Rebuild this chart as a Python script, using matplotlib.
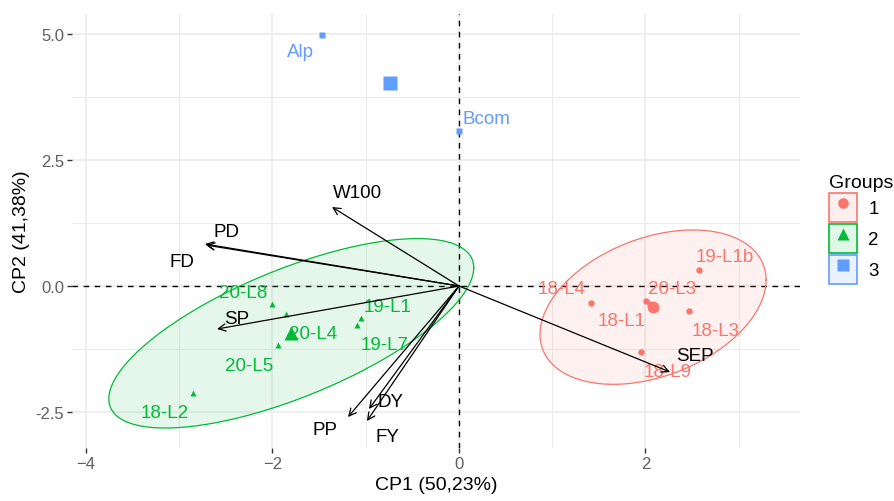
"""
PCA biplot: individuals coloured by group with 95% normal ellipses,
variables drawn as arrows from the origin.
"""

import numpy as np
import matplotlib
matplotlib.use("Agg")
import matplotlib.pyplot as plt
from matplotlib.lines import Line2D
from matplotlib.patches import Patch
from matplotlib.legend_handler import HandlerTuple

plt.rcParams["font.family"] = ["Liberation Sans", "DejaVu Sans"]

# ── Data ─────────────────────────────────────────────────────────────

# individuals, one label left blank where the original shows none
ind_names = ["19-L1b", "18-L4", "20-L3", "18-L1", "", "18-L3", "18-L9",
             "20-L8", "", "20-L4", "20-L5", "18-L2", "19-L1", "19-L7",
             "Alp", "Bcom"]
ind_x = [2.574, 1.416, 2.005, 2.102, 2.052, 2.466, 1.952,
         -2.005, -1.855, -1.791, -1.941, -2.853, -1.051, -1.094,
         -1.469, 0.000]
ind_y = [0.317, -0.337, -0.298, -0.456, -0.357, -0.496, -1.310,
         -0.357, -0.556, -0.952, -1.171, -2.123, -0.635, -0.774,
         4.980, 3.075]
ind_group = [1, 1, 1, 1, 1, 1, 1,
             2, 2, 2, 2, 2, 2, 2,
             3, 3]

# variables (arrow tips)
var_names = ["W100", "PD", "FD", "SP", "PP", "DY", "FY", "SEP"]
var_x = [-1.362, -2.724, -2.712, -2.595, -1.190, -0.965, -0.987, 2.263]
var_y = [1.567, 0.833, 0.812, -0.853, -2.599, -2.440, -2.679, -1.706]

groups = [1, 2, 3]
x_ticks = [-4, -2, 0, 2]
y_ticks = [-2.5, 0.0, 2.5, 5.0]

# ── Styling ──────────────────────────────────────────────────────────

COLORS = {1: "#F8766D", 2: "#00BA38", 3: "#619CFF"}
MARKERS = {1: "o", 2: "^", 3: "s"}
MSIZE = {1: 4.6, 2: 5.0, 3: 4.4}
CSIZE = {1: 8.5, 2: 9.5, 3: 9.4}

# label offsets in pixels (right, up) — mimics the repelled labels
ind_offsets = {
    "19-L1b": (26, 14), "18-L4": (-29, 14), "20-L3": (26, 13),
    "18-L1": (-33, -12), "18-L3": (27, -19), "18-L9": (27, -19),
    "20-L8": (-29, 12), "20-L4": (21, 0), "20-L5": (-29, -20),
    "18-L2": (-28, -19), "19-L1": (27, 12), "19-L7": (28, -19),
    "Alp": (-22, -16), "Bcom": (27, 13),
}
var_offsets = {
    "W100": (26, 15), "PD": (22, 13), "FD": (-24, -16), "SP": (20, 11),
    "PP": (-23, -12), "DY": (21, 7), "FY": (20, -15), "SEP": (25, 16),
}

LABEL_FS = 13.5


def norm_ellipse(x, y, level=0.95, n_seg=200):
    """Same construction as ggplot2 stat_ellipse(type = 'norm')."""
    pts = np.column_stack([x, y])
    n = len(pts)
    center = pts.mean(axis=0)
    shape = np.cov(pts, rowvar=False)
    df2 = n - 1
    # F(2, df2) quantile has a closed form
    qf = df2 / 2 * ((1 - level) ** (-2 / df2) - 1)
    radius = np.sqrt(2 * qf)
    t = np.linspace(0, 2 * np.pi, n_seg)
    circle = np.column_stack([np.cos(t), np.sin(t)])
    upper = np.linalg.cholesky(shape).T
    return center + radius * circle @ upper


# ── Plot ─────────────────────────────────────────────────────────────

fig = plt.figure(figsize=(8.94, 5.02), dpi=100)
ax = fig.add_axes([72 / 894, 53 / 502, 728 / 894, 434 / 502])

ax.set_xlim(-4.150, 3.657)
ax.set_ylim(-3.214, 5.397)

# grid (theme_minimal look)
ax.set_xticks(x_ticks)
ax.set_yticks(y_ticks)
ax.set_xticks([-3, -1, 1, 3], minor=True)
ax.set_yticks([-1.25, 1.25, 3.75], minor=True)
ax.grid(which="major", color="#EBEBEB", lw=1.1, zorder=0)
ax.grid(which="minor", color="#EBEBEB", lw=0.7, zorder=0)
ax.set_axisbelow(True)
for s in ax.spines.values():
    s.set_visible(False)
ax.tick_params(which="major", length=3.6, width=1.0, color="#333333",
               labelsize=12, labelcolor="#5F5F5F", pad=2)
ax.tick_params(which="minor", length=0)
ax.set_yticklabels([f"{v:.1f}" for v in y_ticks])

ax.axhline(0, color="black", lw=1.0, ls=(0, (4, 4)), zorder=1)
ax.axvline(0, color="black", lw=1.0, ls=(0, (4, 4)), zorder=1)

ind_x_arr = np.array(ind_x)
ind_y_arr = np.array(ind_y)
grp_arr = np.array(ind_group)

# ellipses (groups with enough points)
for g in groups:
    m = grp_arr == g
    if m.sum() < 3:
        continue
    ell = norm_ellipse(ind_x_arr[m], ind_y_arr[m])
    ax.fill(ell[:, 0], ell[:, 1], color=COLORS[g], alpha=0.1, lw=0, zorder=2)
    ax.plot(ell[:, 0], ell[:, 1], color=COLORS[g], lw=0.9, zorder=2)

# points + centroids
for g in groups:
    m = grp_arr == g
    ax.plot(ind_x_arr[m], ind_y_arr[m], ls="none", marker=MARKERS[g],
            ms=MSIZE[g], color=COLORS[g], mec="none", zorder=4)
    ax.plot(ind_x_arr[m].mean(), ind_y_arr[m].mean(), ls="none",
            marker=MARKERS[g], ms=CSIZE[g], color=COLORS[g], mec="none",
            zorder=4)

for name, x, y, g in zip(ind_names, ind_x, ind_y, ind_group):
    if not name:
        continue
    dx, dy = ind_offsets[name]
    ax.annotate(name, (x, y), xytext=(dx, dy), textcoords="offset pixels",
                ha="center", va="center", fontsize=LABEL_FS,
                color=COLORS[g], zorder=5)

# variable arrows
for name, x, y in zip(var_names, var_x, var_y):
    ax.annotate("", xy=(x, y), xytext=(0, 0),
                arrowprops=dict(arrowstyle="->", color="black", lw=0.9,
                                shrinkA=0, shrinkB=0, mutation_scale=13),
                zorder=6)
    dx, dy = var_offsets[name]
    ax.annotate(name, (x, y), xytext=(dx, dy), textcoords="offset pixels",
                ha="center", va="center", fontsize=LABEL_FS, color="black",
                zorder=6)

ax.set_xlabel("CP1 (50,23%)", fontsize=14, labelpad=4)
ax.set_ylabel("CP2 (41,38%)", fontsize=14, labelpad=4)

# legend: coloured box with the marker drawn on top
handles = []
for g in groups:
    box = Patch(facecolor=matplotlib.colors.to_rgba(COLORS[g], 0.12),
                edgecolor=COLORS[g], lw=1.2)
    mk = Line2D([], [], ls="none", marker=MARKERS[g], ms=CSIZE[g] * 0.9,
                color=COLORS[g], mec="none")
    handles.append((box, mk))
leg = ax.legend(handles, [str(g) for g in groups], title="Groups",
                handler_map={tuple: HandlerTuple(ndivide=1, pad=0)},
                loc="upper left", bbox_to_anchor=(829 / 894, 1 - 175 / 502),
                bbox_transform=fig.transFigure, frameon=False,
                fontsize=13.5, title_fontsize=14, handlelength=1.5,
                handleheight=2.0, handletextpad=0.6, labelspacing=0.1,
                borderpad=0, borderaxespad=0)
leg._legend_box.align = "left"

fig.savefig("out.png", dpi=100)
plt.close(fig)
